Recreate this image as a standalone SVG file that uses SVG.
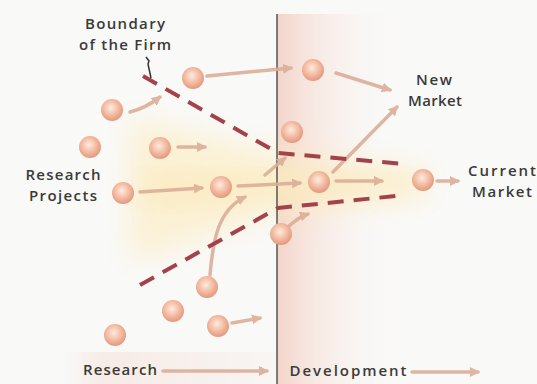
<svg xmlns="http://www.w3.org/2000/svg" width="537" height="384" viewBox="0 0 537 384">
<defs>
<radialGradient id="sph" cx="0.45" cy="0.4" r="0.6">
<stop offset="0" stop-color="#fdece0"/>
<stop offset="0.55" stop-color="#f3bca2"/>
<stop offset="1" stop-color="#e3987e"/>
</radialGradient>
<linearGradient id="pink" x1="0" y1="0" x2="1" y2="0">
<stop offset="0" stop-color="#f2d0c4" stop-opacity="0.9"/>
<stop offset="0.35" stop-color="#f6e0d8" stop-opacity="0.6"/>
<stop offset="1" stop-color="#f9f9f8" stop-opacity="0"/>
</linearGradient>
<linearGradient id="band" x1="0" y1="0" x2="1" y2="0">
<stop offset="0" stop-color="#f5e2da" stop-opacity="0"/>
<stop offset="0.2" stop-color="#f5e2da" stop-opacity="0.6"/>
<stop offset="1" stop-color="#f5e2da" stop-opacity="0.15"/>
</linearGradient>
<filter id="blur" x="-30%" y="-30%" width="160%" height="160%">
<feGaussianBlur stdDeviation="14"/>
</filter>
<marker id="ah" markerUnits="userSpaceOnUse" markerWidth="12" markerHeight="12" refX="8" refY="5" orient="auto">
<path d="M0,0 L10,5 L0,10 z" fill="#dcae98"/>
</marker>
<style>
.n{fill:url(#sph)}
.c{fill:none;stroke:#dcae98;stroke-width:3.5;stroke-linecap:round;opacity:0.9;marker-end:url(#ah)}
.b{fill:none;stroke:#a3424a;stroke-width:4;stroke-dasharray:16 10}
.t{font-family:"Open Sans","DejaVu Sans",sans-serif;font-size:15px;font-weight:600;fill:#3a3a3a;text-anchor:middle}
</style>
</defs>
<rect width="537" height="384" fill="#f9f9f8"/>
<rect x="277" y="14" width="120" height="370" fill="url(#pink)"/>
<rect x="62" y="352" width="215" height="32" fill="url(#band)"/>
<path d="M130,118 L275,152 L425,168 L425,198 L275,214 L130,262 Z" fill="#fcedc4" opacity="0.7" filter="url(#blur)"/>
<path d="M140,175 L275,178 L420,178 L420,188 L275,196 L140,205 Z" fill="#fbe6ad" opacity="0.5" filter="url(#blur)"/>
<line x1="277" y1="14" x2="277" y2="384" stroke="#555" stroke-width="1.5"/>

<g id="connectors">
<path class="c" d="M130,112 Q146,108 160,97"/>
<path class="c" d="M207,76 L291,68"/>
<path class="c" d="M336,73 L390,90"/>
<path class="c" d="M333,172 L397,107"/>
<path class="c" d="M178,147 L205,147"/>
<path class="c" d="M140,192 L202,188"/>
<path class="c" d="M238,186 L300,183"/>
<path class="c" d="M336,181 L382,181"/>
<path class="c" d="M437,181 L458,181"/>
<path class="c" d="M289,226 Q299,217 308,214"/>
<path class="c" d="M210,275 C213,240 218,210 245,197"/>
<path class="c" d="M232,323 L260,318"/>
<path class="c" d="M265,175 L285,158"/>
<path class="c" d="M163,371 L267,371"/>
<path class="c" d="M412,372 L478,372"/>
</g>

<g id="boundary">
<path class="b" d="M143,76 L278,153 L405,164"/>
<path class="b" d="M140,285 L278,208 L405,195"/>
<path d="M146,57 L149,61 L148,64 L151,78" fill="none" stroke="#333" stroke-width="1.5"/>
</g>

<g id="n1"><circle class="n" cx="193" cy="78" r="11"/></g>
<g id="n2"><circle class="n" cx="112" cy="110" r="11"/></g>
<g id="n3"><circle class="n" cx="90" cy="147" r="11"/></g>
<g id="n4"><circle class="n" cx="160" cy="148" r="11"/></g>
<g id="n5"><circle class="n" cx="123" cy="193" r="11"/></g>
<g id="n6"><circle class="n" cx="221" cy="187" r="11"/></g>
<g id="n7"><circle class="n" cx="313" cy="70" r="11"/></g>
<g id="n8"><circle class="n" cx="292" cy="132" r="11"/></g>
<g id="n9"><circle class="n" cx="319" cy="182" r="11"/></g>
<g id="n10"><circle class="n" cx="423" cy="180" r="11"/></g>
<g id="n11"><circle class="n" cx="281" cy="234" r="11"/></g>
<g id="n12"><circle class="n" cx="207" cy="287" r="11"/></g>
<g id="n13"><circle class="n" cx="173" cy="311" r="11"/></g>
<g id="n14"><circle class="n" cx="218" cy="326" r="11"/></g>
<g id="n15"><circle class="n" cx="115" cy="335" r="11"/></g>

<g id="labels">
<text class="t" x="125" y="29" textLength="80">Boundary</text>
<text class="t" x="125" y="50" textLength="92">of the Firm</text>
<text class="t" x="434" y="85" textLength="36">New</text>
<text class="t" x="435" y="106" textLength="54">Market</text>
<text class="t" x="502" y="176" textLength="68">Current</text>
<text class="t" x="502" y="197" textLength="60">Market</text>
<text class="t" x="63" y="180" textLength="75">Research</text>
<text class="t" x="63" y="201" textLength="68">Projects</text>
<text class="t" x="120" y="375" textLength="74">Research</text>
<text class="t" x="348" y="376" textLength="117">Development</text>
</g>
</svg>
